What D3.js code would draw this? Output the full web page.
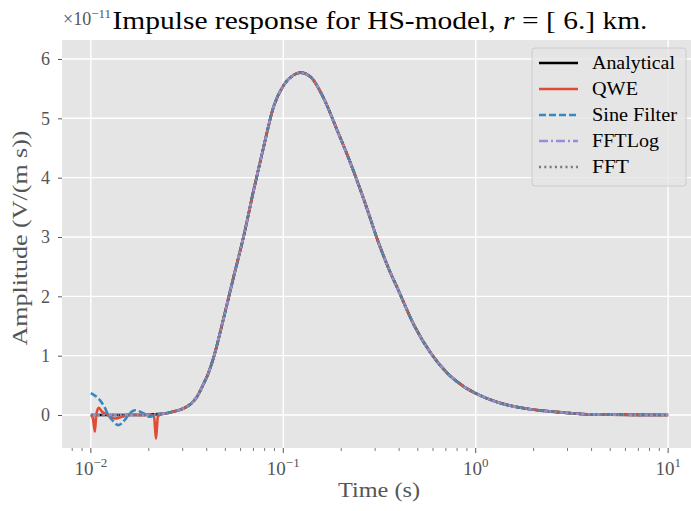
<!DOCTYPE html>
<html>
<head>
<meta charset="utf-8">
<script src="https://cdn.jsdelivr.net/npm/d3@7"></script>
<style>
  body { margin: 0; background: #fff; }
  svg { display: block; font-family: "Liberation Serif", "DejaVu Serif", serif; }
</style>
</head>
<body>
<svg id="chart" width="691" height="511"></svg>
<script>
const width = 691;
const height = 511;
const margin = { top: 40, left: 62, right: 697, bottom: 448 };

// Analytical curve (amplitude in units of 1e-11)
const timeAnalytical = [0.01, 0.012, 0.015, 0.018, 0.020, 0.02239, 0.02512, 0.02818, 0.03027, 0.03311,
  0.03548, 0.03846, 0.04074, 0.04335, 0.04887, 0.05521, 0.06223, 0.07015, 0.07907, 0.08913,
  0.1005, 0.1132, 0.1227, 0.1384, 0.1626, 0.1905, 0.2239, 0.2630, 0.3162, 0.3548,
  0.3917, 0.4786, 0.5848, 0.7145, 0.871, 1.0, 1.30, 1.94, 2.90, 3.53, 5.0, 7.08, 10.0];
const ampAnalytical = [0.0, 0.0, 0.0, 0.0, 0.005, 0.015, 0.035, 0.075, 0.11, 0.19,
  0.30, 0.52, 0.70, 0.96, 1.62, 2.33, 3.01, 3.79, 4.52, 5.20,
  5.56, 5.73, 5.77, 5.70, 5.33, 4.80, 4.24, 3.62, 2.86, 2.45,
  2.14, 1.51, 1.04, 0.70, 0.475, 0.366, 0.214, 0.096, 0.039, 0.017, 0.006, 0.002, 0.0];

// QWE start (spikes), then it follows the analytical curve
const timeQWE = [0.01, 0.01024, 0.01049, 0.01066, 0.0110, 0.01141, 0.0123, 0.0133, 0.0145, 0.0160,
  0.0180, 0.0203, 0.0213, 0.0218, 0.0223, 0.0237];
const ampQWE = [0.0, -0.05, -0.28, 0.0, 0.12, 0.06, 0.0, -0.06, -0.03, 0.01,
  0.0, 0.0, -0.02, -0.40, -0.02, 0.02];

// Sine filter start (oscillation)
const timeSine = [0.01, 0.01114, 0.01183, 0.01231, 0.01287, 0.01388, 0.01504, 0.01565, 0.01696,
  0.01873, 0.0203, 0.0218, 0.0243];
const ampSine = [0.37, 0.25, 0.12, 0.0, -0.08, -0.17, -0.08, 0.0, 0.08,
  0.03, -0.03, 0.0, 0.025];

const yTicks = [0, 1, 2, 3, 4, 5, 6];
const xTicks = [0.01, 0.1, 1, 10];
const xTickExp = ["\u22122", "\u22121", "0", "1"];

const seriesNames = ["Analytical", "QWE", "Sine Filter", "FFTLog", "FFT"];
const seriesColors = ["#000000", "#E24A33", "#348ABD", "#988ED5", "#777777"];
const seriesDash = [null, null, "7,3", "9,3,2,3", "2,3.3"];
const legendWidths = [83, 46, 85, 67, 37];

const zip = (ts, vs) => ts.map((t, i) => ({ t, v: vs[i] }));
const analytical = zip(timeAnalytical, ampAnalytical);
const tailFrom = t0 => analytical.filter(d => d.t > t0);

const series = [
  analytical,
  zip(timeQWE, ampQWE).concat(tailFrom(0.0237)),
  zip(timeSine, ampSine).concat(tailFrom(0.0243)),
  analytical,
  analytical
];

const svg = d3.select("#chart");

const x = d3.scaleLog()
  .domain([Math.pow(10, -2.15), Math.pow(10, 1.15)])
  .range([margin.left, margin.right]);

const y = d3.scaleLinear()
  .domain([-0.556, 6.32])
  .range([margin.bottom, margin.top]);

// axes background
svg.append("rect")
  .attr("x", margin.left).attr("y", margin.top)
  .attr("width", margin.right - margin.left)
  .attr("height", margin.bottom - margin.top)
  .attr("fill", "#E5E5E5");

// grid
svg.append("g").selectAll("line")
  .data(yTicks)
  .join("line")
  .attr("x1", margin.left).attr("x2", margin.right)
  .attr("y1", d => y(d)).attr("y2", d => y(d))
  .attr("stroke", "#fff").attr("stroke-width", 1.4);

svg.append("g").selectAll("line")
  .data(xTicks)
  .join("line")
  .attr("x1", d => x(d)).attr("x2", d => x(d))
  .attr("y1", margin.top).attr("y2", margin.bottom)
  .attr("stroke", "#fff").attr("stroke-width", 1.4);

// y axis
const yAxis = svg.append("g")
  .attr("transform", `translate(${margin.left},0)`)
  .call(d3.axisLeft(y).tickValues(yTicks).tickSize(4).tickPadding(8).tickFormat(d3.format("d")));
yAxis.select(".domain").remove();
yAxis.selectAll("line").attr("stroke", "#555").attr("stroke-width", 1);
yAxis.selectAll("text").attr("fill", "#555").attr("font-size", 18)
  .attr("font-family", "Liberation Serif, DejaVu Serif, serif");

// x axis: minor ticks
const minor = [];
for (let e = -3; e <= 1; e++) {
  for (let m = 2; m <= 9; m++) {
    const v = m * Math.pow(10, e);
    if (x(v) >= margin.left && x(v) <= margin.right) minor.push(v);
  }
}
svg.append("g").selectAll("line")
  .data(minor)
  .join("line")
  .attr("x1", d => x(d)).attr("x2", d => x(d))
  .attr("y1", margin.bottom).attr("y2", margin.bottom + 3)
  .attr("stroke", "#555").attr("stroke-width", 0.8);

svg.append("g").selectAll("line")
  .data(xTicks)
  .join("line")
  .attr("x1", d => x(d)).attr("x2", d => x(d))
  .attr("y1", margin.bottom).attr("y2", margin.bottom + 5)
  .attr("stroke", "#555").attr("stroke-width", 1);

const xLabels = svg.append("g").selectAll("text")
  .data(xTicks)
  .join("text")
  .attr("x", d => x(d))
  .attr("y", 475)
  .attr("text-anchor", "middle")
  .attr("fill", "#555")
  .attr("font-size", 19);
xLabels.append("tspan").text("10");
xLabels.append("tspan")
  .attr("dy", -8).attr("font-size", 13)
  .text((d, i) => xTickExp[i]);

// lines
const line = d3.line()
  .x(d => x(d.t))
  .y(d => y(d.v))
  .curve(d3.curveMonotoneX);

const plot = svg.append("g");
series.forEach((s, i) => {
  plot.append("path")
    .datum(s)
    .attr("d", line)
    .attr("fill", "none")
    .attr("stroke", seriesColors[i])
    .attr("stroke-width", 2.6)
    .attr("stroke-dasharray", seriesDash[i]);
});

// labels
svg.append("text")
  .attr("x", 379).attr("y", 497)
  .attr("text-anchor", "middle")
  .attr("fill", "#555").attr("font-size", 21)
  .attr("textLength", 82).attr("lengthAdjust", "spacingAndGlyphs")
  .text("Time (s)");

svg.append("text")
  .attr("transform", "rotate(-90)")
  .attr("x", -238).attr("y", 27)
  .attr("text-anchor", "middle")
  .attr("fill", "#555").attr("font-size", 21)
  .attr("textLength", 215).attr("lengthAdjust", "spacingAndGlyphs")
  .text("Amplitude (V/(m s))");

const offset = svg.append("text")
  .attr("x", 63).attr("y", 25)
  .attr("fill", "#555").attr("font-size", 18);
offset.append("tspan").text("\u00d710");
offset.append("tspan").attr("dy", -7).attr("font-size", 13).text("\u221211");

const title = svg.append("text")
  .attr("x", 380).attr("y", 29)
  .attr("text-anchor", "middle")
  .attr("fill", "#000").attr("font-size", 26)
  .attr("textLength", 535).attr("lengthAdjust", "spacingAndGlyphs");
title.append("tspan").text("Impulse response for HS-model, ");
title.append("tspan").attr("font-style", "italic").text("r");
title.append("tspan").text(" =  [ 6.]  km.");

// legend
const legend = svg.append("g");
legend.append("rect")
  .attr("x", 532).attr("y", 48)
  .attr("width", 154).attr("height", 138)
  .attr("rx", 3)
  .attr("fill", "#E5E5E5").attr("fill-opacity", 0.8)
  .attr("stroke", "#CCCCCC").attr("stroke-width", 1);

seriesNames.forEach((name, i) => {
  const yy = 63 + i * 26;
  legend.append("line")
    .attr("x1", 539).attr("x2", 578)
    .attr("y1", yy).attr("y2", yy)
    .attr("stroke", seriesColors[i])
    .attr("stroke-width", 2.6)
    .attr("stroke-dasharray", seriesDash[i]);
  legend.append("text")
    .attr("x", 592).attr("y", yy + 6)
    .attr("font-size", 18)
    .attr("fill", "#000")
    .attr("textLength", legendWidths[i]).attr("lengthAdjust", "spacingAndGlyphs")
    .text(name);
});
</script>
</body>
</html>
